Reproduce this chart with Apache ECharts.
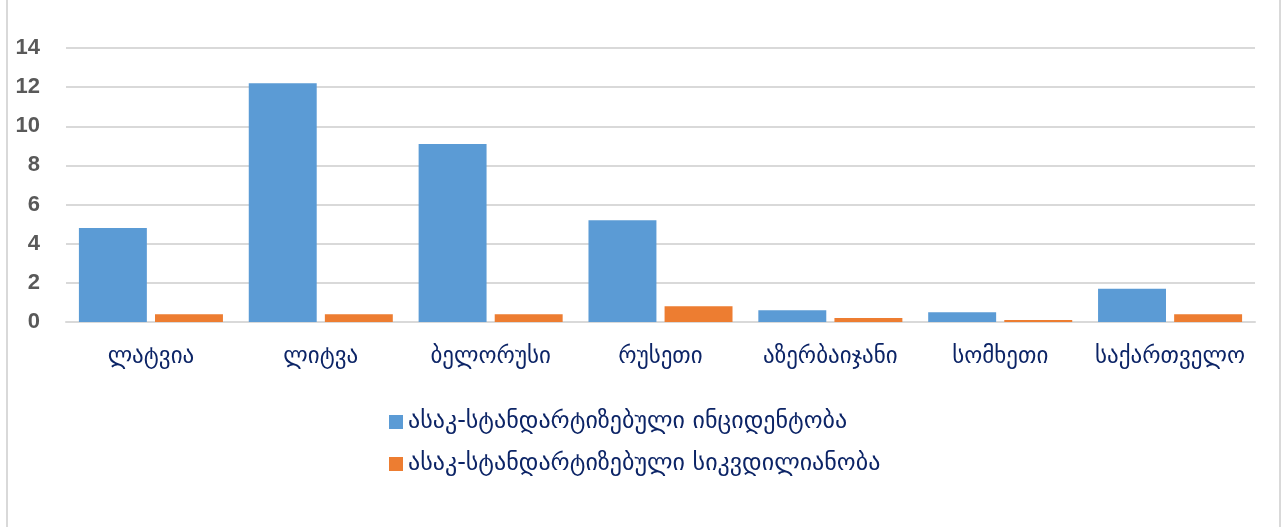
<!DOCTYPE html>
<html><head><meta charset="utf-8">
<script src="https://cdn.jsdelivr.net/npm/echarts@6/dist/echarts.min.js"></script>
<style>html,body{margin:0;padding:0;background:#fff}#c{height:527px;box-sizing:border-box;border-left:2px solid #d9d9d9;border-right:2px solid #d9d9d9;margin-left:6px;width:1275px}</style>
</head><body><div id="c"></div>
<script>
const categories = ['ლატვია','ლიტვა','ბელორუსი','რუსეთი','აზერბაიჯანი','სომხეთი','საქართველო'];
const seriesNames = ['ასაკ-სტანდარტიზებული ინციდენტობა','ასაკ-სტანდარტიზებული სიკვდილიანობა'];
const incidence = [4.8, 12.2, 9.1, 5.2, 0.6, 0.5, 1.7];
const mortality = [0.4, 0.4, 0.4, 0.8, 0.2, 0.1, 0.4];
const yTicks = {min: 0, max: 14, interval: 2};
const font = 'DejaVu Sans, Noto Sans, sans-serif';
const chart = echarts.init(document.getElementById('c'));
chart.setOption({
  animation: false,
  grid: {left: 58, right: 24, top: 48, bottom: 205, containLabel: false},
  legend: {
    orient: 'vertical', left: 376, top: 405, itemWidth: 14, itemHeight: 14, itemGap: 18,
    icon: 'rect',
    textStyle: {fontFamily: font, fontSize: 24, color: '#0c2466'},
    data: seriesNames
  },
  xAxis: {
    type: 'category', data: categories,
    axisLine: {lineStyle: {color: '#d9d9d9', width: 2}},
    axisTick: {show: false},
    axisLabel: {interval: 0, fontFamily: font, fontSize: 23, color: '#0c2466', margin: 24}
  },
  yAxis: {
    type: 'value', min: yTicks.min, max: yTicks.max, interval: yTicks.interval,
    axisLine: {show: false}, axisTick: {show: false},
    splitLine: {lineStyle: {color: '#d9d9d9', width: 2}},
    axisLabel: {fontFamily: 'Liberation Sans, Arial, sans-serif', fontWeight: 'bold', fontSize: 22, color: '#595959', margin: 26}
  },
  series: [
    {name: seriesNames[0], type: 'bar', data: incidence, barWidth: '40%', barGap: '12%',
     itemStyle: {color: '#5b9bd5'}},
    {name: seriesNames[1], type: 'bar', data: mortality, barWidth: '40%',
     itemStyle: {color: '#ed7d31'}}
  ]
});
</script></body></html>
